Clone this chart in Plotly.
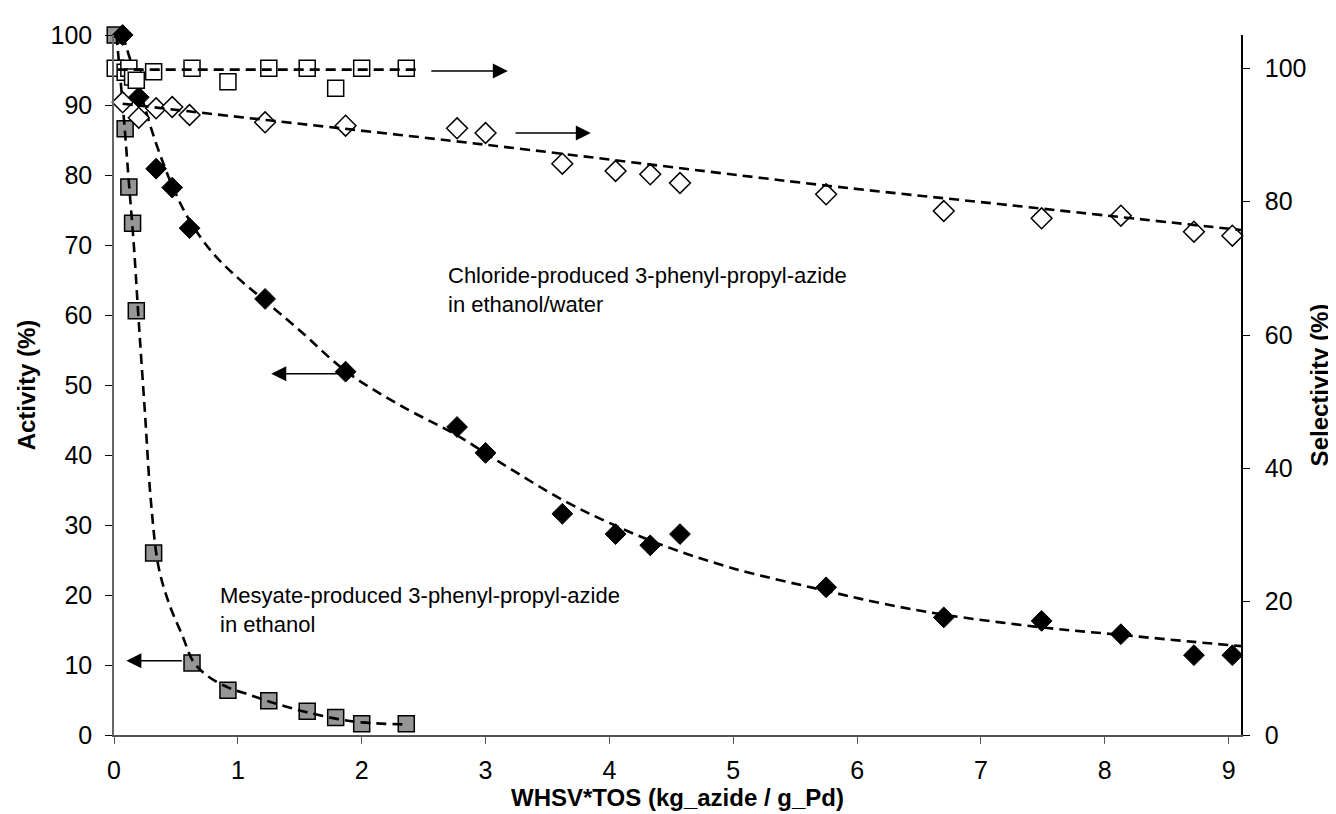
import plotly.graph_objects as go

# ---------------- data ----------------
# Mesyate-produced azide in ethanol
mes_x = [0.01, 0.09, 0.12, 0.15, 0.18, 0.32, 0.63, 0.92, 1.25, 1.56, 1.79, 2.00, 2.36]
mes_activity = [100, 86.6, 78.3, 73.1, 60.6, 26.0, 10.3, 6.4, 4.9, 3.4, 2.5, 1.6, 1.6]
mes_selectivity = [100, 99.4, 100, 98.7, 98.2, 99.5, 100, 98.0, 100, 100, 97.0, 100, 100]

# Chloride-produced azide in ethanol/water
chl_x = [0.07, 0.20, 0.34, 0.47, 0.61, 1.22, 1.87, 2.77, 3.00, 3.62, 4.05, 4.33, 4.57,
         5.75, 6.70, 7.49, 8.13, 8.72, 9.03]
chl_activity = [100, 91.1, 80.9, 78.2, 72.4, 62.3, 51.9, 44.0, 40.3, 31.6, 28.7, 27.1, 28.7,
                21.1, 16.8, 16.3, 14.4, 11.4, 11.4]
chl_selectivity = [94.9, 92.6, 94.0, 94.2, 93.0, 91.9, 91.4, 91.0, 90.3, 85.7, 84.6, 84.1, 82.8,
                   81.1, 78.6, 77.5, 77.9, 75.5, 74.9]

# dashed trend lines
mes_act_trend_x = [0.02, 0.08, 0.12, 0.16, 0.20, 0.25, 0.30, 0.36, 0.45, 0.55, 0.64, 0.75,
                   0.92, 1.10, 1.25, 1.40, 1.57, 1.80, 2.00, 2.36]
mes_act_trend_y = [100, 88, 79, 70, 59, 46, 33, 24, 18.5, 14.3, 10.5, 8.5,
                   6.8, 5.7, 4.8, 4.0, 3.2, 2.3, 1.8, 1.5]
chl_act_trend_x = [0.07, 0.20, 0.34, 0.47, 0.61, 0.80, 1.00, 1.22, 1.50, 1.87, 2.30, 2.77,
                   3.13, 3.63, 4.00, 4.40, 5.00, 5.75, 6.20, 6.70, 7.48, 8.13, 8.72, 9.10]
chl_act_trend_y = [100, 92.5, 84.5, 78.5, 73.5, 68.8, 65.3, 62.0, 57.8, 52.0, 47.2, 42.8,
                   38.8, 33.5, 30.3, 27.3, 23.8, 20.6, 18.8, 17.2, 15.4, 14.3, 13.3, 12.7]
chl_sel_trend_x = [0.07, 0.70, 3.02, 5.76, 7.22, 9.10]
chl_sel_trend_y = [94.7, 93.35, 88.5, 82.4, 79.5, 75.75]
mes_sel_trend_x = [0.03, 2.45]
mes_sel_trend_y = [99.8, 99.8]

x_ticks = [0, 1, 2, 3, 4, 5, 6, 7, 8, 9]
y_ticks = [0, 10, 20, 30, 40, 50, 60, 70, 80, 90, 100]
y2_ticks = [0, 20, 40, 60, 80, 100]

label_chl = "Chloride-produced 3-phenyl-propyl-azide<br>in ethanol/water"
label_mes = "Mesyate-produced 3-phenyl-propyl-azide<br>in ethanol"

# ---------------- figure ----------------
FONT = "Liberation Sans, Arial, sans-serif"
dash = "10px,6px"

fig = go.Figure()

# activity markers (left axis)
fig.add_trace(go.Scatter(x=mes_x, y=mes_activity, mode="markers", name="Mesyate activity",
                         cliponaxis=False,
                         marker=dict(symbol="square", size=16, color="#969696",
                                     line=dict(color="black", width=1.5))))
fig.add_trace(go.Scatter(x=chl_x, y=chl_activity, mode="markers", name="Chloride activity",
                         cliponaxis=False,
                         marker=dict(symbol="diamond", size=16, color="black",
                                     line=dict(color="black", width=1))))
fig.add_trace(go.Scatter(x=mes_act_trend_x, y=mes_act_trend_y, mode="lines", line_shape="spline",
                         line=dict(color="black", width=2.6, dash=dash), hoverinfo="skip"))
fig.add_trace(go.Scatter(x=chl_act_trend_x, y=chl_act_trend_y, mode="lines", line_shape="spline",
                         line=dict(color="black", width=2.6, dash=dash), hoverinfo="skip"))

# selectivity markers (right axis)
fig.add_trace(go.Scatter(x=mes_x, y=mes_selectivity, mode="markers", yaxis="y2",
                         name="Mesyate selectivity", cliponaxis=False,
                         marker=dict(symbol="square", size=16, color="white",
                                     line=dict(color="black", width=1.5))))
fig.add_trace(go.Scatter(x=chl_x, y=chl_selectivity, mode="markers", yaxis="y2",
                         name="Chloride selectivity", cliponaxis=False,
                         marker=dict(symbol="diamond", size=16, color="white",
                                     line=dict(color="black", width=1.5))))
fig.add_trace(go.Scatter(x=mes_sel_trend_x, y=mes_sel_trend_y, mode="lines", yaxis="y2",
                         line=dict(color="black", width=2.6, dash=dash), hoverinfo="skip"))
fig.add_trace(go.Scatter(x=chl_sel_trend_x, y=chl_sel_trend_y, mode="lines", yaxis="y2",
                         line_shape="spline",
                         line=dict(color="black", width=2.6, dash=dash), hoverinfo="skip"))

# arrows
def arrow(x_tail, x_tip, y, yref):
    return dict(x=x_tip, y=y, ax=x_tail, ay=y, xref="x", yref=yref, axref="x", ayref=yref,
                text="", showarrow=True, arrowhead=2, arrowsize=2.0, arrowwidth=1.5,
                arrowcolor="black", standoff=0, startstandoff=0)

annotations = [
    arrow(2.55, 3.18, 99.6, "y2"),
    arrow(3.23, 3.85, 90.3, "y2"),
    arrow(1.82, 1.27, 51.6, "y"),
    arrow(0.56, 0.10, 10.6, "y"),
    dict(x=2.68, y=63.6, xref="x", yref="y", text=label_chl, showarrow=False,
         xanchor="left", yanchor="middle", align="left",
         font=dict(family=FONT, size=22, color="black")),
    dict(x=0.84, y=17.9, xref="x", yref="y", text=label_mes, showarrow=False,
         xanchor="left", yanchor="middle", align="left",
         font=dict(family=FONT, size=22, color="black")),
]

axis_font = dict(family=FONT, size=25, color="black")
title_font = dict(family=FONT, size=24, color="black")

fig.update_layout(
    width=1336, height=814, autosize=False,
    paper_bgcolor="white", plot_bgcolor="white",
    margin=dict(l=106, r=103, t=27, b=87),
    showlegend=False,
    font=dict(family=FONT, color="black"),
    annotations=annotations,
    xaxis=dict(range=[0, 9.1], tickvals=x_ticks, ticks="outside", ticklen=7, tickwidth=1,
               tickcolor="#555", showline=True, linecolor="#555", linewidth=1.5,
               showgrid=False, zeroline=False, tickfont=axis_font, automargin=False,
               ticklabelstandoff=5,
               title=dict(text="<b>WHSV*TOS (kg_azide / g_Pd)</b>", font=title_font, standoff=6)),
    yaxis=dict(range=[0, 100], tickvals=y_ticks, ticks="outside", ticklen=7, tickwidth=1,
               tickcolor="black", showline=True, linecolor="#666", linewidth=1.5,
               showgrid=False, zeroline=False, tickfont=axis_font, automargin=False,
               ticklabelstandoff=8,
               title=dict(text="<b>Activity (%)</b>", font=title_font, standoff=8)),
    yaxis2=dict(range=[0, 105], tickvals=y2_ticks, overlaying="y", side="right",
                ticks="outside", ticklen=7, tickwidth=1, tickcolor="black",
                showline=True, linecolor="black", linewidth=1.5,
                showgrid=False, zeroline=False, tickfont=axis_font, automargin=False,
                ticklabelstandoff=10,
                title=dict(text="<b>Selectivity (%)</b>", font=title_font, standoff=6)),
)

fig.write_html("out.html")
